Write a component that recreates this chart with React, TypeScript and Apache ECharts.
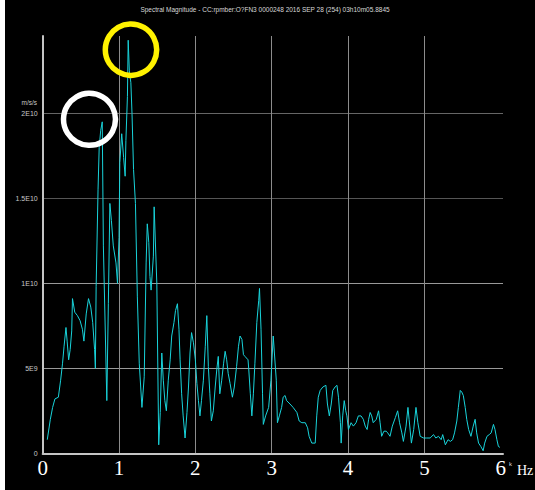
import React, { useEffect, useRef } from "react";
import * as echarts from "echarts";

const freqHz = [
  0.06, 0.1, 0.13, 0.16, 0.205, 0.235, 0.26, 0.28, 0.305, 0.32, 0.34, 0.36, 0.38, 0.39, 0.42, 0.455, 0.49, 0.52, 0.54, 0.57,
  0.6, 0.63, 0.655, 0.68, 0.69, 0.7, 0.725, 0.74, 0.76, 0.78, 0.795, 0.84, 0.86, 0.88, 0.9, 0.925, 0.96, 0.98, 1.0, 1.01,
  1.035, 1.06, 1.08, 1.09, 1.11, 1.12, 1.135, 1.155, 1.17, 1.19, 1.215, 1.24, 1.265, 1.3, 1.33, 1.355, 1.37, 1.39, 1.405, 1.42,
  1.45, 1.46, 1.495, 1.52, 1.54, 1.56, 1.58, 1.6, 1.62, 1.645, 1.67, 1.69, 1.72, 1.74, 1.765, 1.785, 1.8, 1.82, 1.84, 1.865,
  1.89, 1.91, 1.93, 1.95, 1.975, 2.0, 2.02, 2.04, 2.06, 2.08, 2.105, 2.13, 2.15, 2.17, 2.19, 2.21, 2.235, 2.26, 2.28, 2.3,
  2.32, 2.345, 2.37, 2.39, 2.41, 2.43, 2.455, 2.485, 2.51, 2.54, 2.565, 2.585, 2.61, 2.63, 2.65, 2.69, 2.7, 2.72, 2.74, 2.76,
  2.78, 2.805, 2.83, 2.84, 2.86, 2.88, 2.89, 2.92, 2.96, 2.99, 3.02, 3.06, 3.075, 3.1, 3.13, 3.15, 3.175, 3.195, 3.24, 3.28,
  3.33, 3.36, 3.395, 3.44, 3.47, 3.49, 3.525, 3.57, 3.59, 3.61, 3.635, 3.67, 3.71, 3.73, 3.755, 3.78, 3.8, 3.83, 3.855, 3.875,
  3.9, 3.91, 3.93, 3.95, 3.97, 3.985, 4.005, 4.04, 4.07, 4.105, 4.135, 4.17, 4.2, 4.225, 4.25, 4.27, 4.29, 4.31, 4.33, 4.37,
  4.4, 4.42, 4.44, 4.47, 4.5, 4.52, 4.55, 4.58, 4.62, 4.65, 4.675, 4.705, 4.725, 4.76, 4.785, 4.8, 4.83, 4.86, 4.89, 4.915,
  4.945, 4.99, 5.03, 5.075, 5.12, 5.15, 5.185, 5.22, 5.24, 5.275, 5.31, 5.34, 5.37, 5.395, 5.425, 5.445, 5.47, 5.49, 5.51, 5.535,
  5.555, 5.58, 5.61, 5.64, 5.665, 5.685, 5.71, 5.74, 5.77, 5.79, 5.82, 5.85, 5.875, 5.905, 5.925, 5.95, 5.97, 5.99,
];

// magnitude in units of 1E9
const magnitudeE9 = [
  0.8, 2.0, 2.7, 3.2, 3.3, 4.3, 5.3, 6.3, 7.4, 6.6, 5.5, 6.1, 7.2, 9.1, 8.3, 8.1, 7.8, 7.3, 6.6, 8.2,
  9.1, 8.6, 7.7, 6.1, 5.0, 9.8, 15.5, 18.0, 19.0, 19.5, 12.2, 3.1, 8.8, 14.7, 13.7, 12.2, 11.2, 10.0, 12.7, 17.1,
  18.8, 17.4, 16.3, 18.4, 21.0, 24.3, 22.5, 21.8, 20.0, 16.7, 14.7, 9.2, 5.3, 2.7, 4.5, 11.2, 13.5, 12.4, 10.4, 9.6,
  11.6, 14.5, 10.0, 0.5, 2.4, 5.9, 4.3, 3.1, 2.5, 4.3, 5.5, 6.9, 7.7, 8.4, 8.8, 7.3, 5.5, 3.5, 2.2, 0.9,
  2.4, 3.9, 5.9, 7.1, 6.5, 5.5, 4.1, 3.1, 2.2, 3.1, 4.3, 6.3, 8.1, 5.1, 3.5, 1.9, 2.5, 3.9, 4.9, 5.7,
  3.5, 4.3, 5.3, 6.0, 5.5, 4.7, 4.1, 3.3, 3.9, 5.1, 6.3, 6.9, 6.7, 5.8, 5.7, 5.5, 4.9, 3.5, 2.2, 3.5,
  5.3, 7.7, 9.0, 9.7, 7.3, 3.5, 1.7, 2.2, 2.7, 4.3, 6.9, 4.3, 1.8, 2.2, 2.7, 3.3, 3.4, 3.1, 2.9, 2.7,
  2.4, 1.9, 1.8, 1.8, 1.5, 1.0, 0.6, 0.6, 2.2, 3.3, 3.7, 3.9, 4.0, 2.9, 2.2, 2.9, 3.7, 3.9, 4.0, 3.3,
  1.8, 0.6, 2.2, 3.1, 2.5, 2.2, 1.4, 1.8, 1.6, 1.8, 2.2, 2.2, 2.0, 1.6, 1.4, 2.0, 2.4, 2.2, 1.8, 2.0,
  2.5, 1.8, 1.0, 1.3, 1.3, 1.2, 1.0, 1.6, 2.1, 2.5, 1.8, 1.2, 0.7, 1.6, 2.7, 2.0, 0.6, 1.4, 2.7, 1.8,
  1.0, 0.9, 0.9, 0.9, 1.1, 0.9, 1.0, 0.8, 1.1, 0.5, 0.8, 0.7, 0.8, 1.2, 1.9, 2.7, 3.7, 3.6, 3.4, 2.7,
  2.0, 1.4, 1.0, 1.6, 2.0, 1.2, 0.6, 0.4, 0.15, 0.6, 1.0, 1.1, 1.2, 1.7, 1.4, 0.8, 0.4, 0.35,
];

const yTickValues = [0, 5, 10, 15, 20];
const yTickLabels = ["0", "5E9", "1E10", "1.5E10", "2E10"];
const xTickLabels = ["0", "1", "2", "3", "4", "5", "6"];

const titleText = "Spectral Magnitude - CC:rpmber:O?FN3 0000248 2016 SEP 28 (254) 03h10m05.8845";
const unitText = "m/s/s";

export default function App() {
  const ref = useRef<HTMLDivElement>(null);

  useEffect(() => {
    if (!ref.current) return;
    const chart = echarts.init(ref.current, null, { renderer: "svg" });
    const data = freqHz.map((f, i) => [f, magnitudeE9[i]]);
    const clear = "rgba(0,0,0,0)";
    chart.setOption({
      animation: false,
      backgroundColor: "#000",
      grid: { left: 42.7, top: 36, right: 32, bottom: 36.7, containLabel: false },
      xAxis: {
        type: "value",
        min: 0,
        max: 6.03,
        interval: 1,
        axisLine: { show: true, lineStyle: { color: "#c4c4c4", width: 2 } },
        axisTick: { show: false },
        splitLine: {
          show: true,
          lineStyle: {
            color: ["#8c8c8c", "#8c8c8c", "#8c8c8c", "#8c8c8c", "#8c8c8c", "#8c8c8c", clear, clear],
            width: 1,
          },
        },
        axisLabel: {
          formatter: (v: number) => {
            const i = xTickLabels.indexOf(String(v));
            return i >= 0 ? xTickLabels[i] : "";
          },
          fontFamily: "Liberation Serif",
          fontSize: 21,
          color: "#fff",
          margin: 4,
          showMaxLabel: true,
        },
      },
      yAxis: {
        type: "value",
        min: 0,
        max: 24.55,
        interval: 5,
        axisLine: { show: true, lineStyle: { color: "#c4c4c4", width: 2 } },
        axisTick: { show: false },
        splitLine: {
          show: true,
          lineStyle: {
            color: ["#999", "#999", "#999", "#555", "#666", clear],
            width: 1,
          },
        },
        axisLabel: {
          formatter: (v: number) => {
            const i = yTickValues.indexOf(v);
            return i >= 0 ? yTickLabels[i] : "";
          },
          fontFamily: "Liberation Sans",
          fontSize: 7,
          color: "#c8c8c8",
          margin: 5,
        },
      },
      series: [
        {
          type: "line",
          data,
          symbol: "none",
          showSymbol: false,
          lineStyle: { color: "#19d3da", width: 1 },
          z: 3,
        },
      ],
      graphic: [
        { type: "rect", shape: { x: 0, y: 0, width: 5, height: 490 }, style: { fill: "#fff" }, z: 200 },
        {
          type: "text",
          x: 265,
          y: 9,
          style: { text: titleText, fill: "#d8d8d8", font: "6.5px 'Liberation Sans'", align: "center", verticalAlign: "middle" },
        },
        {
          type: "text",
          x: 37,
          y: 102,
          style: { text: unitText, fill: "#c8c8c8", font: "6.5px 'Liberation Sans'", align: "right", verticalAlign: "middle" },
        },
        {
          type: "text",
          x: 509,
          y: 464,
          style: { text: "k", fill: "#ddd", font: "6px 'Liberation Sans'", align: "left", verticalAlign: "middle" },
        },
        {
          type: "text",
          x: 517,
          y: 470,
          style: { text: "Hz", fill: "#fff", font: "14px 'Liberation Serif'", align: "left", verticalAlign: "middle" },
        },
        {
          type: "circle",
          shape: { cx: 131, cy: 49.7, r: 25.7 },
          style: { fill: clear, stroke: "#fff200", lineWidth: 5.5 },
          z: 150,
        },
        {
          type: "circle",
          shape: { cx: 89.5, cy: 119.3, r: 26 },
          style: { fill: clear, stroke: "#ffffff", lineWidth: 5.5 },
          z: 150,
        },
      ],
    });
    return () => chart.dispose();
  }, []);

  return (
    <div
      ref={ref}
      style={{ position: "fixed", left: 0, top: 0, width: 535, height: 490 }}
    />
  );
}
